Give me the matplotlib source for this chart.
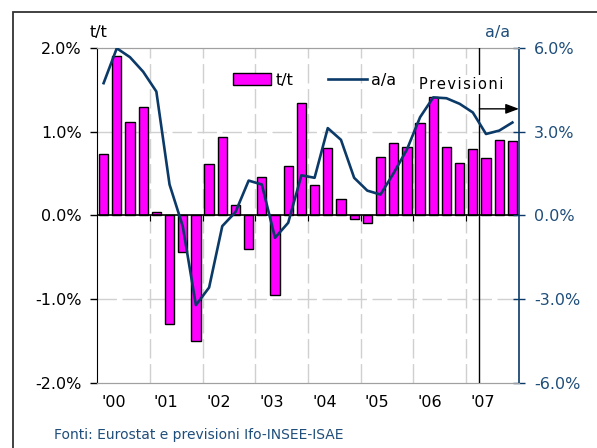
import numpy as np
import matplotlib
matplotlib.use("Agg")
import matplotlib.pyplot as plt
from matplotlib.patches import Rectangle

# variazioni t/t (barre, asse sinistro) e a/a (linea, asse destro), trimestri 2000Q1-2007Q4
tt = [0.73, 1.90, 1.12, 1.29, 0.04, -1.30, -0.43, -1.50,
      0.61, 0.94, 0.13, -0.40, 0.46, -0.95, 0.59, 1.34,
      0.36, 0.80, 0.20, -0.04, -0.09, 0.70, 0.87, 0.82,
      1.10, 1.42, 0.82, 0.63, 0.79, 0.69, 0.90, 0.89]
aa = [4.74, 5.99, 5.67, 5.15, 4.44, 1.11, -0.38, -3.21,
      -2.58, -0.38, 0.12, 1.25, 1.11, -0.80, -0.26, 1.44,
      1.35, 3.13, 2.71, 1.35, 0.89, 0.75, 1.52, 2.36,
      3.52, 4.23, 4.20, 4.00, 3.69, 2.92, 3.04, 3.33]
years = ["'00", "'01", "'02", "'03", "'04", "'05", "'06", "'07"]
left_ticks = [-2, -1, 0, 1, 2]
left_labels = ["-2.0%", "-1.0%", "0.0%", "1.0%", "2.0%"]
right_ticks = [-6, -3, 0, 3, 6]
right_labels = ["-6.0%", "-3.0%", "0.0%", "3.0%", "6.0%"]
forecast_start = 28.5  # inizio previsioni (2007Q2)

navy = '#0b3a68'
blue_txt = '#1f4e7a'
grid_c = '#d0d0d0'
fs = 11.5

plt.rcParams['font.family'] = 'DejaVu Sans'

fig = plt.figure(figsize=(5.97, 4.48), dpi=100)
ax = fig.add_axes([0.1625, 0.1451, 0.7068, 0.7478])
ax2 = ax.twinx()

x = np.arange(len(tt))

# griglia tratteggiata
for b in np.arange(3.5, len(tt) - 1, 4):
    ax.axvline(b, color=grid_c, lw=1, ls=(0, (14, 4)), zorder=0)
for v in [-1, 1]:
    ax.axhline(v, color=grid_c, lw=1, ls=(0, (14, 4)), zorder=0)

ax.bar(x, tt, width=0.7, color='#ff00ff', edgecolor='black', linewidth=1.0, zorder=2)
ax.axhline(0, color='black', lw=1.2, zorder=3)
ax.vlines(np.arange(3.5, len(tt) - 1, 4), -0.06, 0, color='black', lw=0.8, zorder=3)

ax.set_xlim(-0.5, len(tt) - 0.5)
ax.set_ylim(-2, 2)
ax.set_yticks(left_ticks)
ax.set_yticklabels(left_labels, fontsize=fs)
ax.tick_params(axis='y', direction='out', length=5, width=1, pad=6)
ax.set_xticks(np.arange(len(years)) * 4 + 0.75)
ax.set_xticklabels(years, fontsize=fs)
ax.tick_params(axis='x', length=0, pad=9)

ax2.plot(x, aa, color=navy, lw=1.9, zorder=5)
ax2.set_ylim(-6, 6)
ax2.set_yticks(right_ticks)
ax2.set_yticklabels(right_labels, fontsize=fs, color=blue_txt)
ax2.tick_params(axis='y', direction='inout', length=8, width=1, color=navy, pad=7)

for a in (ax, ax2):
    a.spines['top'].set_color('#a0a0a0')
    a.spines['bottom'].set_color('#a0a0a0')
ax.spines['left'].set_color('black')
ax2.spines['left'].set_visible(False)
ax2.spines['right'].set_color(navy)
ax2.spines['right'].set_linewidth(1.2)
ax.spines['right'].set_visible(False)

# previsioni
ax2.axvline(forecast_start, color='black', lw=1, zorder=3)
ax2.annotate('', xy=(len(tt) - 0.5, 3.82), xytext=(forecast_start, 3.82),
             arrowprops=dict(arrowstyle='-|>,head_length=0.8,head_width=0.3',
                             color='black', lw=1, shrinkA=0, shrinkB=0),
             zorder=4)
ax2.text(27.15, 4.7, 'P r e v i s i o n i'.replace(' ', '\u200a'), fontsize=10.5,
         ha='center', va='center',
         bbox=dict(facecolor='white', edgecolor='none', pad=1.5), zorder=4)

# legenda
h1 = plt.Rectangle((0, 0), 1, 1, facecolor='#ff00ff', edgecolor='black', linewidth=1.0)
h2, = ax2.plot([], [], color=navy, lw=1.9)
ax2.legend([h1, h2], ['t/t', 'a/a'], loc='center left', bbox_to_anchor=(0.322, 0.904),
           ncol=2, frameon=False, fontsize=fs, borderpad=0, borderaxespad=0,
           handlelength=2.4, handletextpad=0.25, columnspacing=2.2)

fig.text(99 / 597, 1 - 33 / 448, 't/t', fontsize=fs, ha='center', va='center')
fig.text(498 / 597, 1 - 33 / 448, 'a/a', fontsize=fs, ha='center', va='center', color=blue_txt)
fig.text(54 / 597, 1 - 435 / 448, 'Fonti: Eurostat e previsioni Ifo-INSEE-ISAE',
         fontsize=10, ha='left', va='center', color=blue_txt)

fig.patches.append(Rectangle((13 / 597, -0.1), 2, 1.1 - 12 / 448, transform=fig.transFigure,
                             fill=False, edgecolor='#333333', lw=1.3))

fig.savefig('out.png', dpi=100)
